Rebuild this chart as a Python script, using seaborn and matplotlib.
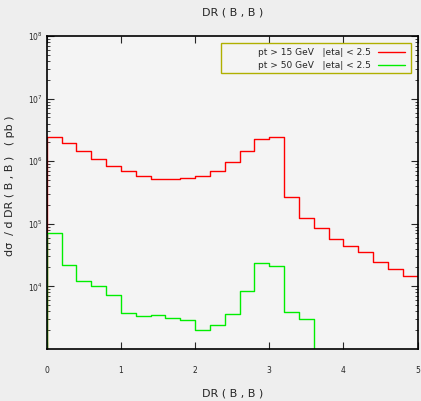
import numpy as np
import pandas as pd
import matplotlib
matplotlib.use("Agg")
import matplotlib.pyplot as plt
import seaborn as sns
from matplotlib.ticker import LogLocator, NullFormatter, FixedLocator
from matplotlib.patches import Rectangle

bin_edges = [round(0.2 * i, 1) for i in range(26)]
red_values = [2.42e6, 1.94e6, 1.43e6, 1.08e6, 8.5e5, 6.86e5, 5.7e5, 5.24e5, 5.18e5, 5.3e5,
              5.85e5, 7.0e5, 9.55e5, 1.43e6, 2.3e6, 2.45e6, 2.64e5, 1.24e5, 8.7e4, 5.7e4,
              4.43e4, 3.5e4, 2.42e4, 1.87e4, 1.45e4]
green_values = [7.1e4, 2.2e4, 1.22e4, 1.02e4, 7.3e3, 3.78e3, 3.3e3, 3.5e3, 3.14e3, 2.92e3,
                2.02e3, 2.37e3, 3.64e3, 8.35e3, 2.34e4, 2.12e4, 3.92e3, 3.03e3, 0, 0,
                0, 0, 0, 0, 0]
labels = ["pt > 15 GeV   |eta| < 2.5", "pt > 50 GeV   |eta| < 2.5"]
colors = ["#ff0000", "#00ee00"]
x_ticks = [0, 1, 2, 3, 4, 5]
floor = 1e-2

sns.set_style("ticks")
fig = plt.figure(figsize=(4.21, 4.01), dpi=100, facecolor="#eeeeee")
ax = fig.add_axes([0.111, 0.130, 0.881, 0.780])
ax.set_facecolor("#f4f4f4")

frames = []
for lab, vals in zip(labels, [red_values, green_values]):
    v = [max(x, floor) for x in vals]
    xs = [bin_edges[0]] + bin_edges
    ys = [floor] + v + [v[-1]]
    frames.append(pd.DataFrame({"x": xs, "y": ys, "series": lab}))
df = pd.concat(frames, ignore_index=True)

sns.lineplot(data=df, x="x", y="y", hue="series", palette=colors, drawstyle="steps-post",
             linewidth=1.0, ax=ax, sort=False, estimator=None)

ax.set_yscale("log")
ax.set_xlim(0, 5)
ax.set_ylim(1e3, 1e8)
ax.xaxis.set_major_locator(FixedLocator(x_ticks))
ax.set_xticklabels([str(t) for t in x_ticks], fontsize=5.5)
ax.yaxis.set_major_locator(FixedLocator([1e4, 1e5, 1e6, 1e7, 1e8]))
ax.yaxis.set_minor_locator(LogLocator(base=10, subs=np.arange(2, 10)))
ax.yaxis.set_minor_formatter(NullFormatter())
ax.tick_params(axis="both", which="both", direction="in", top=True, right=True)
ax.tick_params(axis="x", which="major", length=5, width=0.8, pad=12, labelsize=5.5)
ax.tick_params(axis="y", which="major", length=5, width=0.8, labelsize=5.5, pad=3)
ax.tick_params(axis="y", which="minor", length=2.5, width=0.6)
ax.tick_params(axis="x", which="minor", bottom=False, top=False)
for s in ax.spines.values():
    s.set_linewidth(1.2)
    s.set_color("black")

ax.set_title("DR ( B , B )", fontsize=8, pad=15)
ax.set_xlabel("DR ( B , B )", fontsize=8, labelpad=10)
ax.set_ylabel("dσ  / d DR ( B , B )   ( pb )", fontsize=8, labelpad=3)
ax.yaxis.set_label_coords(-0.085, 0.52)

leg = ax.legend(loc="upper right", bbox_to_anchor=(0.985, 0.985), markerfirst=False, fontsize=6.5,
                frameon=False, handlelength=3.0, handletextpad=0.8, borderpad=0.3,
                labelspacing=0.45, title=None)
ax.add_patch(Rectangle((0.470, 0.882), 0.512, 0.096, transform=ax.transAxes, fill=False,
                       edgecolor="#b0b000", linewidth=1.0, zorder=5, clip_on=False))

fig.savefig("out.png", dpi=100, facecolor=fig.get_facecolor())
